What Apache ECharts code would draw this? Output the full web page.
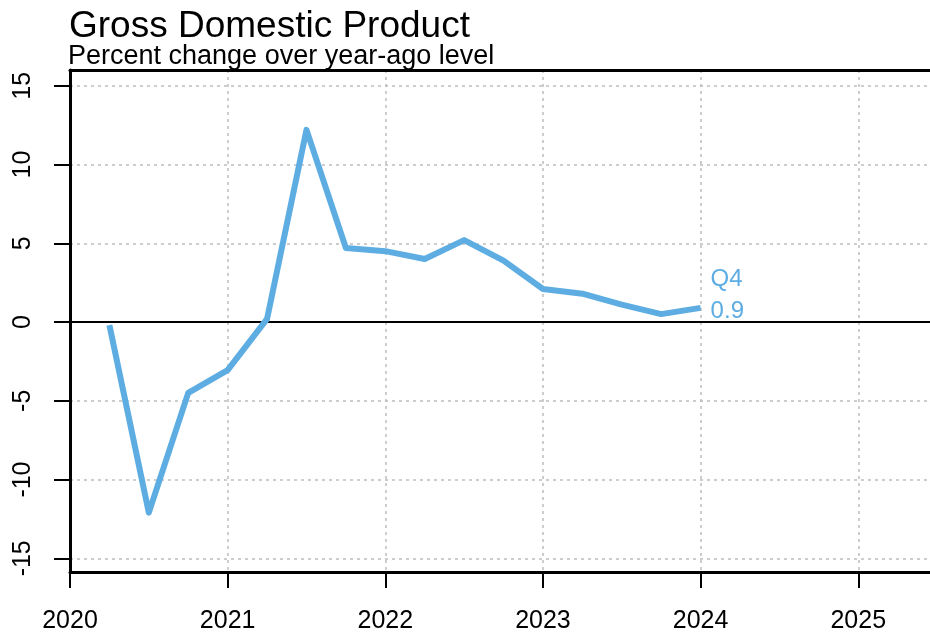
<!DOCTYPE html>
<html>
<head>
<meta charset="utf-8">
<script src="https://cdn.jsdelivr.net/npm/echarts@6/dist/echarts.min.js"></script>
<style>
  html, body { margin: 0; padding: 0; background: #ffffff; }
  #chart { width: 930px; height: 637px; }
</style>
</head>
<body>
<div id="chart"></div>
<script>
// ---- Data ----
const TITLE = "Gross Domestic Product";
const SUBTITLE = "Percent change over year-ago level";
// quarter-end positions (decimal years), 2020 Q1 .. 2023 Q4
const QUARTER_X = [2020.25, 2020.5, 2020.75, 2021.0, 2021.25, 2021.5, 2021.75, 2022.0,
                   2022.25, 2022.5, 2022.75, 2023.0, 2023.25, 2023.5, 2023.75, 2024.0];
const GDP_YOY = [-0.2, -12.1, -4.5, -3.05, 0.2, 12.2, 4.7, 4.5,
                 4.0, 5.2, 3.9, 2.1, 1.8, 1.1, 0.5, 0.9];
const END_QUARTER = "Q4";
const X_TICKS = [2020, 2021, 2022, 2023, 2024, 2025];
const Y_TICKS = [-15, -10, -5, 0, 5, 10, 15];

const LINE_COLOR = '#5DADE2';
const FONT = 'Liberation Sans, Arial, Helvetica, sans-serif';

const seriesData = QUARTER_X.map((x, i) => [x, GDP_YOY[i]]);

const chart = echarts.init(document.getElementById('chart'), null, { renderer: 'canvas' });
const gridLine = { show: true, lineStyle: { color: '#bdbdbd', width: 1.5, type: [3, 4] } };

chart.setOption({
  animation: false,
  backgroundColor: '#ffffff',
  title: [
    { text: TITLE, left: 64, top: 3,
      textStyle: { fontFamily: FONT, fontSize: 37, fontWeight: 'normal', color: '#000' } },
    { text: SUBTITLE, left: 63, top: 38.5,
      textStyle: { fontFamily: FONT, fontSize: 27, fontWeight: 'normal', color: '#000' } }
  ],
  grid: { left: 70, right: 0, top: 70, bottom: 65, containLabel: false },
  xAxis: [
    {
      type: 'value', position: 'bottom',
      min: 2020, max: 2025.455, interval: 1,
      axisLine: { show: true, onZero: false, lineStyle: { color: '#000', width: 3 } },
      axisTick: { show: true, length: 16, lineStyle: { color: '#000', width: 2 },
                  customValues: X_TICKS },
      axisLabel: { show: true, margin: 37, fontFamily: FONT, fontSize: 25, color: '#000',
                   customValues: X_TICKS, formatter: v => String(v) },
      splitLine: gridLine
    },
    {
      type: 'value', position: 'top',
      min: 2020, max: 2025.455,
      axisLine: { show: true, onZero: false, lineStyle: { color: '#000', width: 3 } },
      axisTick: { show: false }, axisLabel: { show: false }, splitLine: { show: false }
    }
  ],
  yAxis: {
    type: 'value',
    min: -15.87, max: 16.0,
    axisLine: { show: true, onZero: false, lineStyle: { color: '#000', width: 3 } },
    axisTick: { show: true, length: 16, lineStyle: { color: '#000', width: 2 },
                customValues: Y_TICKS },
    axisLabel: { show: true, rotate: 90, margin: 34, fontFamily: FONT, fontSize: 25, color: '#000',
                 customValues: Y_TICKS, formatter: v => String(v) },
    splitLine: gridLine
  },
  series: [{
    type: 'line',
    xAxisIndex: 0,
    data: seriesData,
    showSymbol: false,
    symbol: 'none',
    lineStyle: { color: LINE_COLOR, width: 6, join: 'round' },
    itemStyle: { color: LINE_COLOR },
    z: 5,
    endLabel: {
      show: true,
      distance: 10,
      offset: [0, -12],
      formatter: p => END_QUARTER + '\n' + p.value[1],
      color: LINE_COLOR,
      fontFamily: FONT,
      fontSize: 24,
      lineHeight: 32,
      align: 'left'
    },
    markLine: {
      silent: true,
      symbol: ['none', 'none'],
      label: { show: false },
      lineStyle: { color: '#000', width: 2, type: 'solid' },
      data: [{ yAxis: 0 }],
      z: 3
    }
  }]
});
</script>
</body>
</html>
